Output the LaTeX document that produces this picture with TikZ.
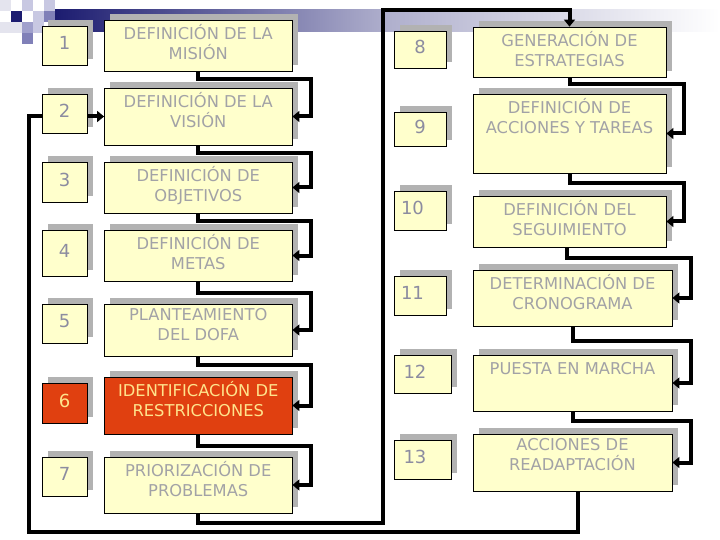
\documentclass[tikz,border=0pt]{standalone}
\usepackage{fontspec}
\setmainfont{DejaVu Sans}
\usepackage{tikz}
\usetikzlibrary{arrows.meta, positioning, calc}
\definecolor{boxyellow}{RGB}{255,255,204}
\definecolor{shadegray}{RGB}{178,178,178}
\definecolor{textgray}{RGB}{162,162,166}
\definecolor{numgray}{RGB}{140,140,160}
\definecolor{alertred}{RGB}{224,64,16}
\definecolor{alertyellow}{RGB}{255,228,140}
\definecolor{navyband}{RGB}{28,28,112}
\definecolor{lavdark}{RGB}{128,128,184}
\definecolor{lavmid}{RGB}{160,160,204}
\definecolor{lavlight}{RGB}{200,200,226}
\definecolor{lavpale}{RGB}{228,228,238}
\pgfdeclarelayer{shade}
\pgfdeclarelayer{links}
\pgfsetlayers{shade,links,main}

\begin{document}
\begin{tikzpicture}[
    x=1pt, y=-1pt,
    numbox/.style={rectangle, draw=black, line width=0.8pt, fill=boxyellow, minimum width=45pt, minimum height=39pt, inner sep=0pt, text depth=5pt, font=\fontsize{18}{20}\selectfont, text=numgray},
    stepbox/.style={rectangle, draw=black, line width=0.8pt, fill=boxyellow, minimum width=187.5pt, inner sep=0pt},
    steptext/.style={anchor=north, align=center, inner sep=0pt, font=\fontsize{16.3}{19.5}\selectfont, text=textgray, execute at begin node=\vphantom{Ó}},
    redbox/.style={fill=alertred, text=alertyellow},
    link/.style={-{Triangle[length=7pt,width=11pt]}, line width=4pt}
]
\useasboundingbox (0,0) rectangle (720,540);

% Template band
\begin{pgfonlayer}{shade}
\shade[left color=navyband, right color=white, middle color=navyband!35] (55,10) rectangle (720,32);
\fill[lavpale] (0,22) rectangle (22,33);
\fill[lavpale] (0,0) rectangle (11,11);
\fill[lavlight] (22,0) rectangle (33,11);
\fill[lavlight] (44,0) rectangle (55,11);
\fill[navyband] (11,11) rectangle (22,22);
\fill[lavlight] (33,11) rectangle (44,22);
\fill[lavdark] (44,11) rectangle (55,22);
\fill[lavmid] (22,22) rectangle (33,33);
\fill[lavlight] (33,22) rectangle (44,33);
\fill[lavdark] (22,33) rectangle (33,44);
\end{pgfonlayer}

% Left column
\node[numbox] (n1) at (64.5,45.5) {1};
\node[numbox] (n2) at (64.5,113.5) {2};
\node[numbox, minimum height=40pt] (n3) at (64.5,182) {3};
\node[numbox, minimum height=46pt] (n4) at (64.5,253) {4};
\node[numbox] (n5) at (64.5,323.5) {5};
\node[numbox, minimum height=40pt, redbox] (n6) at (64.5,403) {6};
\node[numbox] (n7) at (64.5,476.5) {7};

\node[stepbox, minimum height=51pt] (s1) at (198.25,45.5) {};
\node[stepbox, minimum height=57pt] (s2) at (198.25,116.5) {};
\node[stepbox, minimum height=51pt] (s3) at (198.25,187.5) {};
\node[stepbox, minimum height=51pt] (s4) at (198.25,255.5) {};
\node[stepbox, minimum height=52pt] (s5) at (198.25,330) {};
\node[stepbox, minimum height=57pt, redbox] (s6) at (198.25,405.5) {};
\node[stepbox, minimum height=56pt] (s7) at (198.25,485) {};

\node[steptext] (l1) at ([yshift=-5pt]s1.north) {DEFINICIÓN DE LA\\MISIÓN};
\node[steptext] (l2) at ([yshift=-5pt]s2.north) {DEFINICIÓN DE LA\\VISIÓN};
\node[steptext] (l3) at ([yshift=-5pt]s3.north) {DEFINICIÓN DE\\OBJETIVOS};
\node[steptext] (l4) at ([yshift=-5pt]s4.north) {DEFINICIÓN DE\\METAS};
\node[steptext] (l5) at ([yshift=-5pt]s5.north) {PLANTEAMIENTO\\DEL DOFA};
\node[steptext, text=alertyellow] (l6) at ([yshift=-5pt]s6.north) {IDENTIFICACIÓN DE\\RESTRICCIONES};
\node[steptext] (l7) at ([yshift=-5pt]s7.north) {PRIORIZACIÓN DE\\PROBLEMAS};

% Right column
\node[numbox, minimum width=52pt, minimum height=37pt] (n8) at (420,49.5) {8};
\node[numbox, minimum width=52pt, minimum height=34pt] (n9) at (420,129) {9};
\node[numbox, minimum width=52pt, align=left, text width=38pt] (n10) at (420,210.5) {10};
\node[numbox, minimum width=52pt, align=left, text width=38pt] (n11) at (420,295.5) {11};
\node[numbox, minimum width=57pt, minimum height=38pt, align=left, text width=38pt] (n12) at (422.5,374) {12};
\node[numbox, minimum width=57pt, align=left, text width=38pt] (n13) at (422.5,459.5) {13};

\node[stepbox, minimum width=193pt, minimum height=50pt] (s8) at (569.5,52) {};
\node[stepbox, minimum width=193pt, minimum height=79pt] (s9) at (569.5,133.5) {};
\node[stepbox, minimum width=193pt, minimum height=51pt] (s10) at (569.5,221.5) {};
\node[stepbox, minimum width=199pt, minimum height=56pt] (s11) at (572.5,298) {};
\node[stepbox, minimum width=199pt, minimum height=56pt] (s12) at (572.5,383) {};
\node[stepbox, minimum width=199pt, minimum height=57pt] (s13) at (572.5,462.5) {};

\node[steptext] (l8) at ([yshift=-5pt]s8.north) {GENERACIÓN DE\\ESTRATEGIAS};
\node[steptext] (l9) at ([yshift=-5pt]s9.north) {DEFINICIÓN DE\\ACCIONES Y TAREAS};
\node[steptext] (l10) at ([yshift=-5pt]s10.north) {DEFINICIÓN DEL\\SEGUIMIENTO};
\node[steptext] (l11) at ([yshift=-5pt]s11.north) {DETERMINACIÓN DE\\CRONOGRAMA};
\node[steptext] (l12) at ([yshift=-5pt]s12.north) {PUESTA EN MARCHA};
\node[steptext] (l13) at ([yshift=-5pt]s13.north) {ACCIONES DE\\READAPTACIÓN};

% Shadows
\begin{pgfonlayer}{shade}
\foreach \i in {1,...,13} {
    \fill[shadegray] ([shift={(6,-6)}]n\i.south west) rectangle ([shift={(6,-6)}]n\i.north east);
    \fill[shadegray] ([shift={(6,-6)}]s\i.south west) rectangle ([shift={(6,-6)}]s\i.north east);
}
\end{pgfonlayer}

% Arrows
\coordinate (looptop) at (383,10);
\coordinate (loopback) at (29,532);
\begin{pgfonlayer}{links}
\draw[link] (s1.south) -- ++(0,8) -| ([xshift=19pt]s2.east) -- (s2.east);
\draw[link] (s2.south) -- ++(0,8) -| ([xshift=19pt]s3.east) -- (s3.east);
\draw[link] (s3.south) -- ++(0,8) -| ([xshift=19pt]s4.east) -- (s4.east);
\draw[link] (s4.south) -- ++(0,12) -| ([xshift=19pt]s5.east) -- (s5.east);
\draw[link] (s5.south) -- ++(0,9) -| ([xshift=19pt]s6.east) -- (s6.east);
\draw[link] (s6.south) -- ++(0,12) -| ([xshift=19pt]s7.east) -- (s7.east);
\draw[link] (s7.south) -- ++(0,10) -| (looptop) -| (s8.north);
\draw[link] (s8.south) -- ++(0,7) -| ([xshift=18pt]s9.east) -- (s9.east);
\draw[link] (s9.south) -- ++(0,10) -| ([xshift=18pt]s10.east) -- (s10.east);
\draw[link] ([xshift=-3pt]s10.south) -- ++(0,11) -| ([xshift=19pt]s11.east) -- (s11.east);
\draw[link] (s11.south) -- ++(0,15) -| ([xshift=19pt]s12.east) -- (s12.east);
\draw[link] (s12.south) -- ++(0,10) -| ([xshift=19pt]s13.east) -- (s13.east);
\draw[link] ([xshift=5pt]s13.south) |- (loopback) |- (s2.west);
\end{pgfonlayer}
\end{tikzpicture}
\end{document}
